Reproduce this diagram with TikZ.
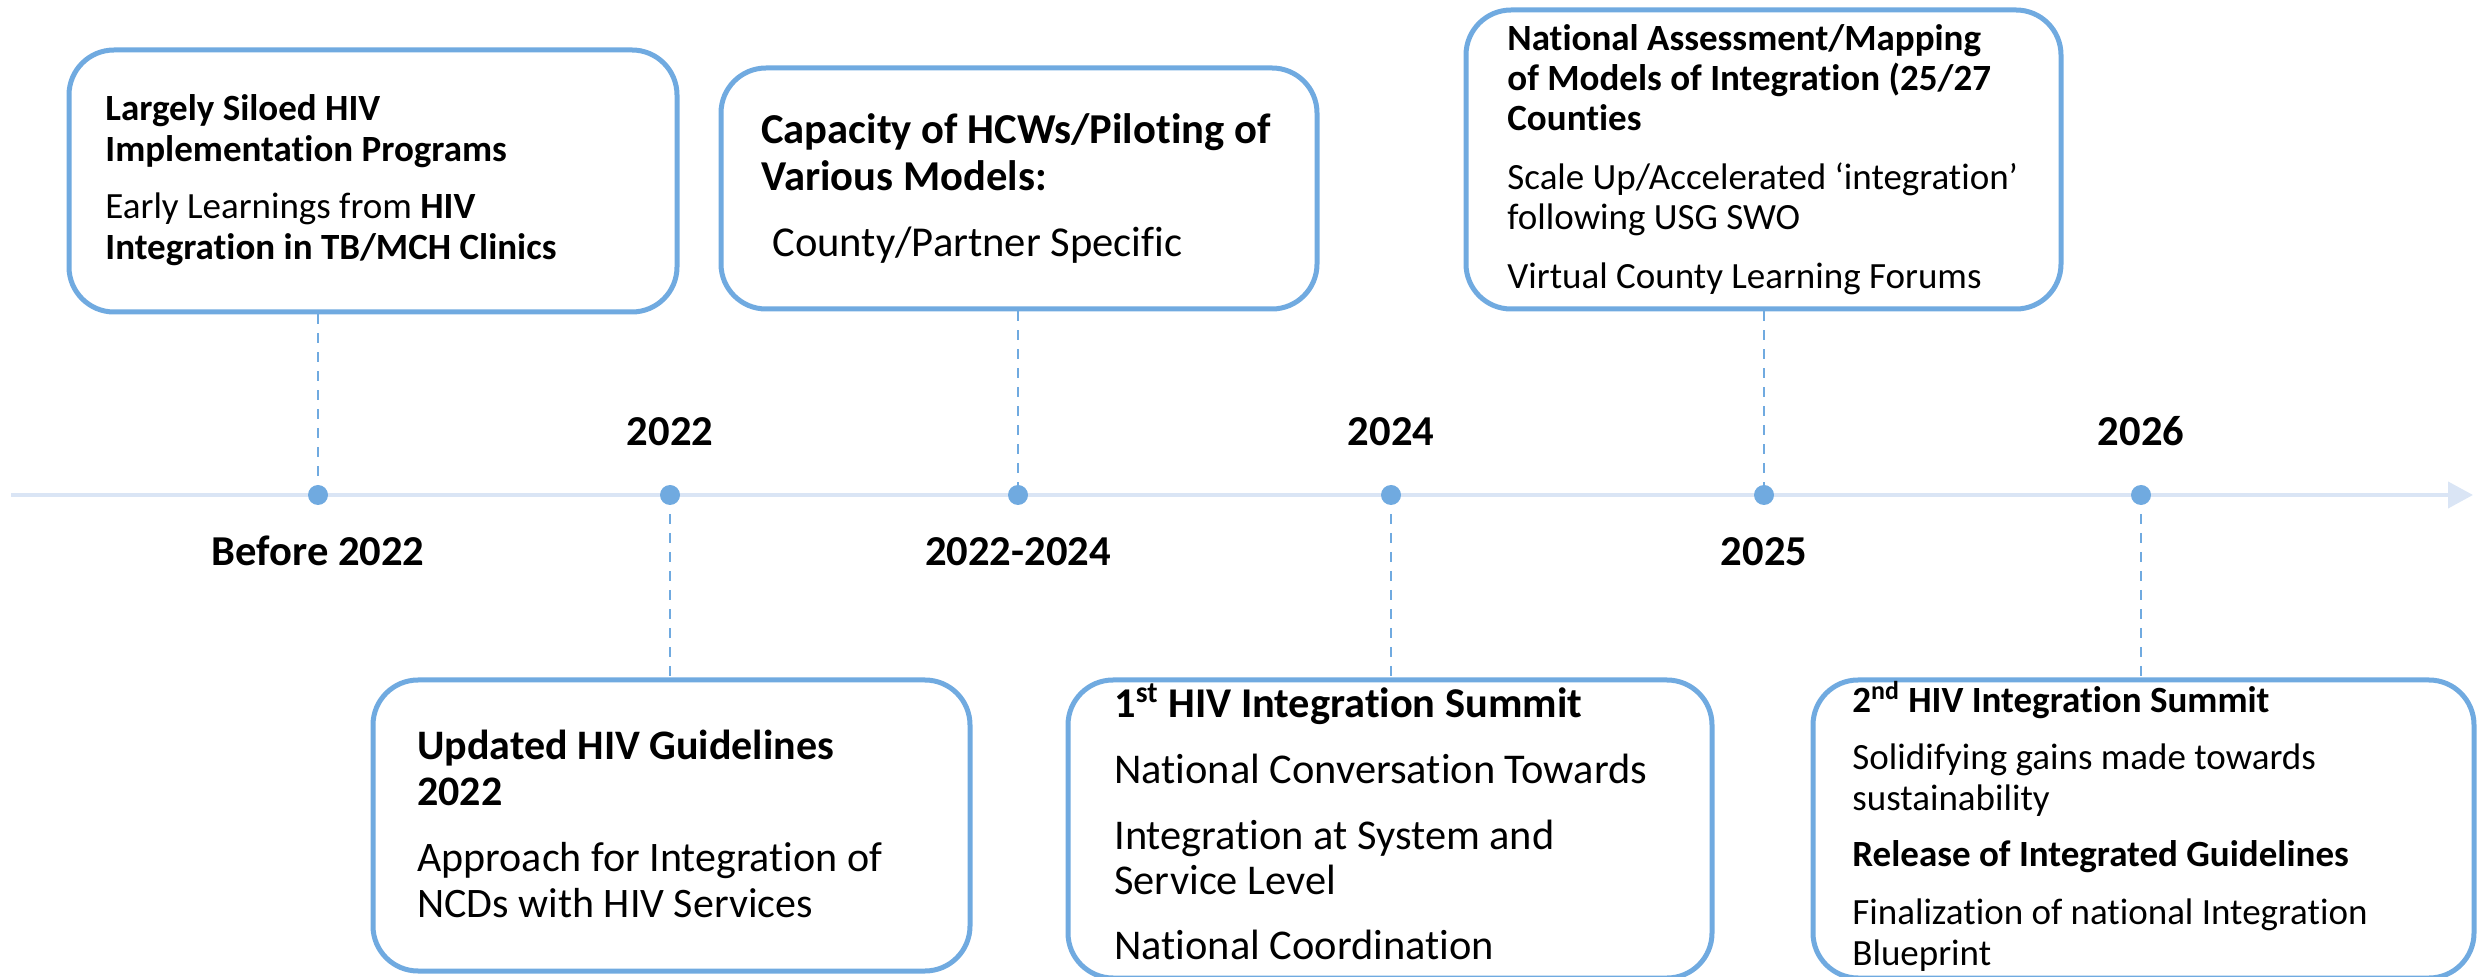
\documentclass[tikz,border=0pt]{standalone}
\usepackage{fontspec}
\setmainfont{Carlito}[Ligatures=NoCommon]
\usetikzlibrary{arrows.meta}
\definecolor{tlblue}{RGB}{112,170,224}
\definecolor{tllight}{RGB}{218,229,245}
\newcommand{\LN}[1]{\hbox{#1}}
\newcommand{\PG}[1]{\vskip #1\relax}
\begin{document}
\begin{tikzpicture}[x=0.5pt,y=-0.5pt,
  evbox/.style={draw=tlblue, line width=2.5pt, rounded corners=22.5pt, fill=white, inner sep=0pt},
  dot/.style={circle, fill=tlblue, minimum size=10pt, inner sep=0pt},
  link/.style={draw=tlblue, line width=1.25pt, dash pattern=on 5pt off 4.5pt},
  yr/.style={font=\fontsize{21.3}{25}\selectfont\bfseries, anchor=base, inner sep=0pt},
  txt/.style={anchor=base west, inner sep=0pt}
]
\useasboundingbox (0,0) rectangle (2478,977);

% timeline
\coordinate (tlstart) at (11,495);
\coordinate (tlend) at (2473,495);
\draw[tllight, line width=2pt, -{Triangle[length=12.5pt,width=13pt]}] (tlstart) -- (tlend);

% dots (positions)
\coordinate (p1) at (318,495);
\coordinate (p2) at (670,495);
\coordinate (p3) at (1018,495);
\coordinate (p4) at (1391,495);
\coordinate (p5) at (1764,495);
\coordinate (p6) at (2141,495);

% boxes
\node[evbox, minimum width=304pt, minimum height=131pt] (b1) at (373,181) {};
\node[evbox, minimum width=298pt, minimum height=120.5pt] (b2) at (1019,188.5) {};
\node[evbox, minimum width=297.5pt, minimum height=149.5pt] (b3) at (1763.5,159.5) {};
\node[evbox, minimum width=298.5pt, minimum height=145.5pt] (b4) at (671.5,825.5) {};
\node[evbox, minimum width=322pt, minimum height=149pt] (b5) at (1390,829) {};
\node[evbox, minimum width=330.5pt, minimum height=149pt] (b6) at (2143.5,829) {};

% connectors
\draw[link] (p1 |- b1.south) -- (p1);
\draw[link] (p3 |- b2.south) -- (p3);
\draw[link] (p5 |- b3.south) -- (p5);
\draw[link] (p2) -- (p2 |- b4.north);
\draw[link] (p4) -- (p4 |- b5.north);
\draw[link] (p6) -- (p6 |- b6.north);

% dots
\node[dot] (d1) at (p1) {};
\node[dot] (d2) at (p2) {};
\node[dot] (d3) at (p3) {};
\node[dot] (d4) at (p4) {};
\node[dot] (d5) at (p5) {};
\node[dot] (d6) at (p6) {};

% year labels
\node[yr] (y1) at (318,566) {Before 2022};
\node[yr] (y2) at (670,446) {2022};
\node[yr] (y3) at (1018,566) {2022-2024};
\node[yr] (y4) at (1391,446) {2024};
\node[yr] (y5) at (1764,566) {2025};
\node[yr] (y6) at (2141,446) {2026};

% box texts
\node[txt] (t1) at (105,121) {\vtop{\fontsize{18.5}{20.5}\selectfont
  \LN{\bfseries Largely Siloed HIV}
  \LN{\bfseries Implementation Programs}
  \PG{8pt}
  \LN{Early Learnings from \textbf{HIV}}
  \LN{\bfseries Integration in TB/MCH Clinics}}};

\node[txt] (t2) at (761,144) {\vtop{\fontsize{21.3}{23.5}\selectfont
  \LN{\bfseries Capacity of HCWs/Piloting of}
  \LN{\bfseries Various Models:}
  \PG{9.5pt}
  \LN{\kern5.5pt County/Partner Specific}}};

\node[txt] (t3) at (1507,51) {\vtop{\fontsize{18.5}{20}\selectfont
  \LN{\bfseries National Assessment/Mapping}
  \LN{\bfseries of Models of Integration (25/27}
  \LN{\bfseries Counties}
  \PG{9.5pt}
  \LN{Scale Up/Accelerated ‘integration’}
  \LN{following USG SWO}
  \PG{9.5pt}
  \LN{Virtual County Learning Forums}}};

\node[txt] (t4) at (417,759) {\vtop{\fontsize{21}{23}\selectfont
  \LN{\bfseries Updated HIV Guidelines}
  \LN{\bfseries 2022}
  \PG{10pt}
  \LN{Approach for Integration of}
  \LN{NCDs with HIV Services}}};

\node[txt] (t5) at (1114,718) {\vtop{\fontsize{21.2}{22.5}\selectfont
  \LN{\bfseries 1\textsuperscript{st} HIV Integration Summit}
  \PG{10.5pt}
  \LN{National Conversation Towards}
  \PG{10.5pt}
  \LN{Integration at System and}
  \LN{Service Level}
  \PG{10pt}
  \LN{National Coordination}}};

\node[txt] (t6) at (1852,712) {\vtop{\fontsize{18.5}{20.5}\selectfont
  \LN{\bfseries 2\textsuperscript{nd} HIV Integration Summit}
  \PG{8pt}
  \LN{Solidifying gains made towards}
  \LN{sustainability}
  \PG{8pt}
  \LN{\bfseries Release of Integrated Guidelines}
  \PG{8pt}
  \LN{Finalization of national Integration}
  \LN{Blueprint}}};
\end{tikzpicture}
\end{document}
